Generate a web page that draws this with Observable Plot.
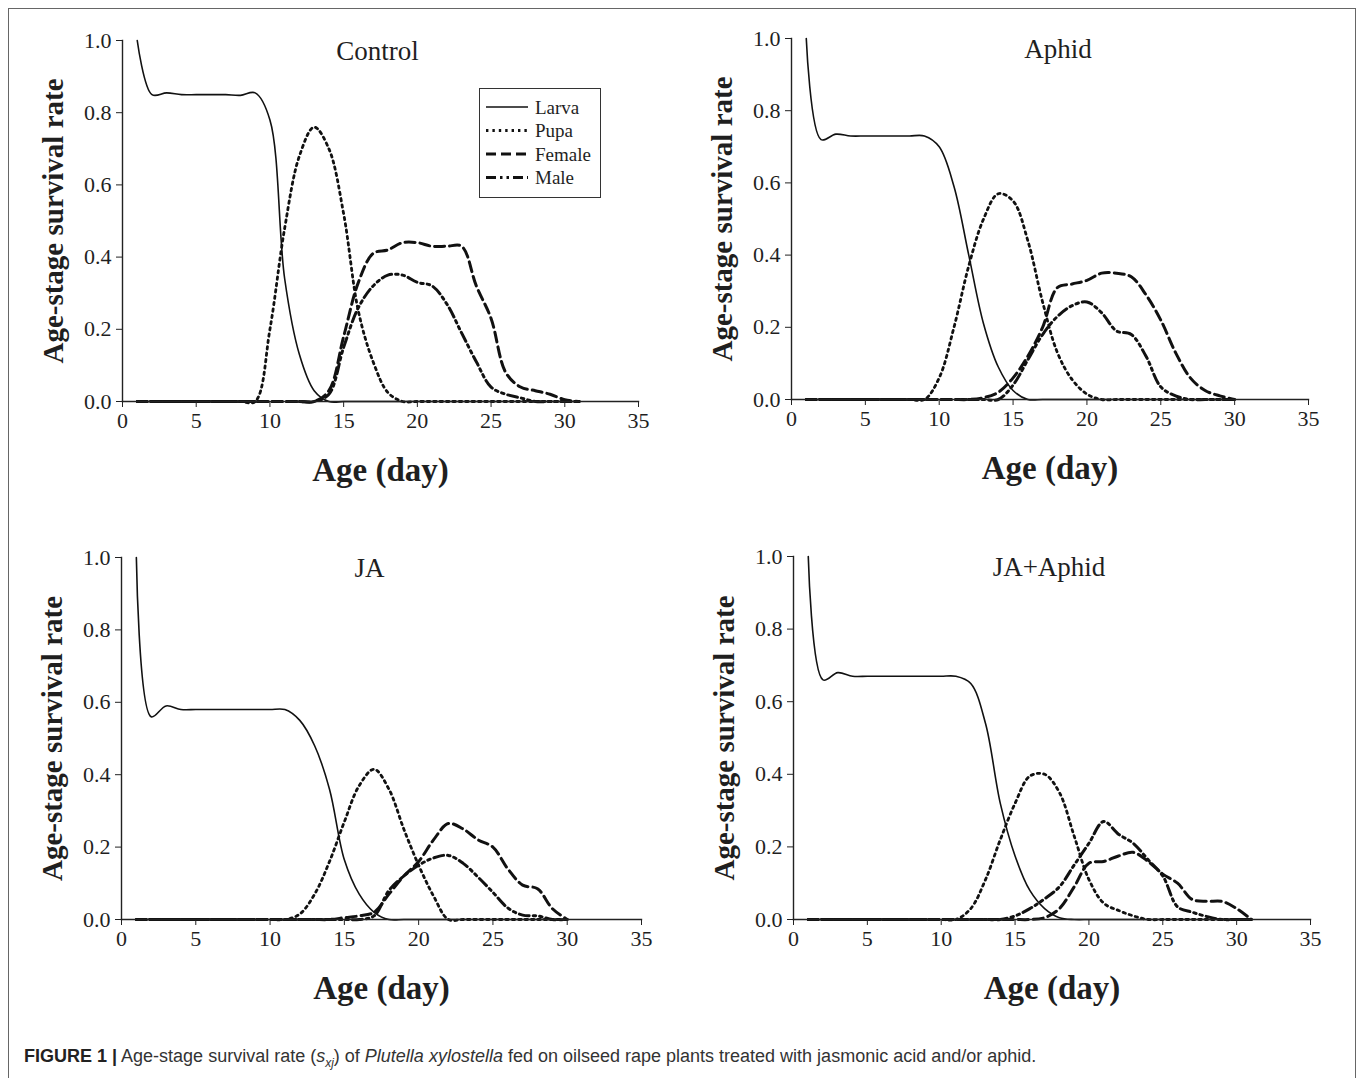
<!DOCTYPE html>
<html>
<head>
<meta charset="utf-8">
<script src="https://cdn.jsdelivr.net/npm/d3@7"></script>
<script src="https://cdn.jsdelivr.net/npm/@observablehq/plot@0.6"></script>
<style>
  html, body { margin: 0; padding: 0; background: #fff; }
  #page { position: relative; width: 1357px; height: 1078px; overflow: hidden; background: #fff; }
  #frame { position: absolute; left: 8px; top: 8px; width: 1348px; height: 1100px;
           border: 1.5px solid #666; box-sizing: border-box; }
  .panel { position: absolute; }
  .panel g[aria-label="y-axis label"] text { font-weight: bold; font-size: 29px; fill: #1f1f1f; }
  #legend { position: absolute; left: 479px; top: 88px; width: 122px; height: 110px;
            border: 1.5px solid #333; box-sizing: border-box; background: #fff; }
  #caption { position: absolute; left: 24px; top: 1046px; font-family: "Liberation Sans", Arial, sans-serif;
             font-size: 18px; color: #333; white-space: nowrap; }
  #caption b { color: #222; }
</style>
</head>
<body>
<div id="page">
  <div id="frame"></div>
  <div id="caption"><b>FIGURE 1 |</b> Age-stage survival rate (<i>s</i><sub style="font-size:12px"><i>xj</i></sub>) of <i>Plutella xylostella</i> fed on oilseed rape plants treated with jasmonic acid and/or aphid.</div>
</div>
<script>
// ---------- data (age-stage survival rate, ages start at day 1) ----------
const stages = ["Larva", "Pupa", "Female", "Male"];
const xTicks = [0, 5, 10, 15, 20, 25, 30, 35];
const yTicks = [0, 0.2, 0.4, 0.6, 0.8, 1.0];
const panelTitles = ["Control", "Aphid", "JA", "JA+Aphid"];

const controlLarva  = [1.0,0.85,0.855,0.85,0.85,0.85,0.85,0.848,0.855,0.78,0.34,0.13,0.03,0,0,0,0,0,0,0,0,0,0,0,0,0,0,0,0,0,0];
const controlPupa   = [0,0,0,0,0,0,0,0,0,0.2,0.48,0.68,0.76,0.70,0.52,0.25,0.11,0.025,0,0,0,0,0,0,0,0,0,0,0,0,0];
const controlFemale = [0,0,0,0,0,0,0,0,0,0,0,0,0,0.03,0.18,0.33,0.41,0.42,0.44,0.44,0.43,0.43,0.43,0.32,0.23,0.08,0.04,0.03,0.02,0.005,0];
const controlMale   = [0,0,0,0,0,0,0,0,0,0,0,0,0,0.02,0.15,0.26,0.32,0.35,0.35,0.33,0.32,0.27,0.19,0.11,0.04,0.02,0.01,0,0,0,0];

const aphidLarva  = [1.0,0.72,0.735,0.73,0.73,0.73,0.73,0.73,0.73,0.70,0.59,0.40,0.21,0.09,0.025,0,0,0,0,0,0,0,0,0,0,0,0,0,0,0];
const aphidPupa   = [0,0,0,0,0,0,0,0,0,0.06,0.2,0.37,0.50,0.57,0.55,0.44,0.27,0.13,0.055,0.015,0,0,0,0,0,0,0,0,0,0];
const aphidFemale = [0,0,0,0,0,0,0,0,0,0,0,0,0.005,0.02,0.06,0.12,0.20,0.31,0.32,0.33,0.35,0.35,0.34,0.29,0.22,0.13,0.06,0.025,0.01,0];
const aphidMale   = [0,0,0,0,0,0,0,0,0,0,0,0,0,0,0.04,0.11,0.18,0.23,0.26,0.27,0.24,0.19,0.18,0.12,0.035,0.01,0,0,0,0];

const jaLarva  = [1.0,0.56,0.59,0.58,0.58,0.58,0.58,0.58,0.58,0.58,0.58,0.55,0.48,0.36,0.165,0.07,0.02,0,0,0,0,0,0,0,0,0,0,0,0,0];
const jaPupa   = [0,0,0,0,0,0,0,0,0,0,0,0.015,0.07,0.16,0.27,0.37,0.415,0.36,0.25,0.15,0.065,0,0,0,0,0,0,0,0,0];
const jaFemale = [0,0,0,0,0,0,0,0,0,0,0,0,0,0,0.005,0.01,0.02,0.07,0.12,0.16,0.22,0.265,0.25,0.22,0.20,0.14,0.095,0.085,0.03,0];
const jaMale   = [0,0,0,0,0,0,0,0,0,0,0,0,0,0,0,0,0.01,0.08,0.12,0.15,0.17,0.177,0.155,0.117,0.075,0.032,0.012,0.01,0,0];

const jaAphidLarva  = [1.0,0.66,0.68,0.67,0.67,0.67,0.67,0.67,0.67,0.67,0.67,0.65,0.54,0.32,0.175,0.08,0.03,0.005,0,0,0,0,0,0,0,0,0,0,0,0,0];
const jaAphidPupa   = [0,0,0,0,0,0,0,0,0,0,0,0.03,0.11,0.22,0.32,0.395,0.40,0.35,0.23,0.11,0.045,0.025,0.01,0,0,0,0,0,0,0,0];
const jaAphidFemale = [0,0,0,0,0,0,0,0,0,0,0,0,0,0,0,0,0.005,0.03,0.09,0.155,0.16,0.175,0.185,0.16,0.125,0.10,0.055,0.05,0.05,0.03,0];
const jaAphidMale   = [0,0,0,0,0,0,0,0,0,0,0,0,0,0,0.01,0.03,0.057,0.09,0.15,0.21,0.27,0.235,0.21,0.165,0.12,0.035,0.02,0.008,0,0,0];

const panelSeries = [
  [controlLarva, controlPupa, controlFemale, controlMale],
  [aphidLarva, aphidPupa, aphidFemale, aphidMale],
  [jaLarva, jaPupa, jaFemale, jaMale],
  [jaAphidLarva, jaAphidPupa, jaAphidFemale, jaAphidMale]
];

// ---------- styles ----------
const lineStyles = {
  Larva:  {strokeWidth: 1.6, strokeDasharray: null},
  Pupa:   {strokeWidth: 2.8, strokeDasharray: "2.4,4"},
  Female: {strokeWidth: 3,   strokeDasharray: "10,5"},
  Male:   {strokeWidth: 3,   strokeDasharray: "10,4,2.5,4,2.5,4"}
};
const ink = "#111";
const textInk = "#1f1f1f";

// panel placement & margins
const layout = [
  {left: 0,   top: 0,   mL: 122, mT: 40, w: 516, h: 361, tdx: -3},
  {left: 670, top: 0,   mL: 121, mT: 38, w: 517, h: 361, tdx: 8},
  {left: 0,   top: 517, mL: 121, mT: 40, w: 520, h: 362, tdx: -12},
  {left: 670, top: 517, mL: 123, mT: 39, w: 517, h: 363, tdx: -3}
];
const W = 670, H = 500;

const page = document.getElementById("page");

panelSeries.forEach((series, p) => {
  const L = layout[p];
  const marks = [];
  stages.forEach((stage, s) => {
    const data = series[s].map((v, i) => ({age: i + 1, rate: v, stage}));
    const st = lineStyles[stage];
    const opts = {x: "age", y: "rate", curve: "catmull-rom", stroke: ink, strokeWidth: st.strokeWidth};
    if (st.strokeDasharray) opts.strokeDasharray = st.strokeDasharray;
    marks.push(Plot.line(data, opts));
  });
  marks.push(
    Plot.frame({anchor: "bottom", stroke: "#222", strokeWidth: 1.4}),
    Plot.frame({anchor: "left", stroke: "#222", strokeWidth: 1.4}),
    Plot.axisX({ticks: xTicks, tickSize: 6, tickPadding: 5, tickFormat: d3.format("d"), label: null, stroke: "#222"}),
    Plot.axisY({ticks: yTicks, tickSize: 6, tickPadding: 5, tickFormat: d3.format(".1f"), stroke: "#222",
                label: "Age-stage survival rate", labelAnchor: "center", labelArrow: "none", labelOffset: 80}),
    Plot.text([panelTitles[p]], {frameAnchor: "top", dx: L.tdx, dy: 0, fontSize: 27, fill: textInk}),
    Plot.text(["Age (day)"], {frameAnchor: "bottom", dy: 79, fontSize: 33, fontWeight: "bold", fill: textInk})
  );
  const chart = Plot.plot({
    width: W, height: H,
    marginLeft: L.mL, marginTop: L.mT,
    marginRight: W - L.mL - L.w, marginBottom: H - L.mT - L.h,
    x: {domain: [0, 35]},
    y: {domain: [0, 1]},
    style: {fontFamily: "'Liberation Serif', 'Times New Roman', serif", fontSize: "22px", color: textInk, background: "transparent", overflow: "visible"},
    marks
  });
  const div = document.createElement("div");
  div.className = "panel";
  div.style.left = L.left + "px";
  div.style.top = L.top + "px";
  div.appendChild(chart);
  page.appendChild(div);
});

// ---------- legend (Control panel) ----------
const legend = document.createElement("div");
legend.id = "legend";
const lsvg = d3.create("svg").attr("width", 120).attr("height", 108);
stages.forEach((stage, i) => {
  const y = 18 + i * 23.5;
  const st = lineStyles[stage];
  lsvg.append("line").attr("x1", 6).attr("x2", 48).attr("y1", y).attr("y2", y)
    .attr("stroke", ink).attr("stroke-width", st.strokeWidth)
    .attr("stroke-dasharray", st.strokeDasharray);
  lsvg.append("text").attr("x", 55).attr("y", y).attr("dy", "0.35em")
    .attr("font-family", "'Liberation Serif', serif").attr("font-size", 19)
    .attr("fill", textInk).text(stage);
});
legend.appendChild(lsvg.node());
page.appendChild(legend);
</script>
</body>
</html>
